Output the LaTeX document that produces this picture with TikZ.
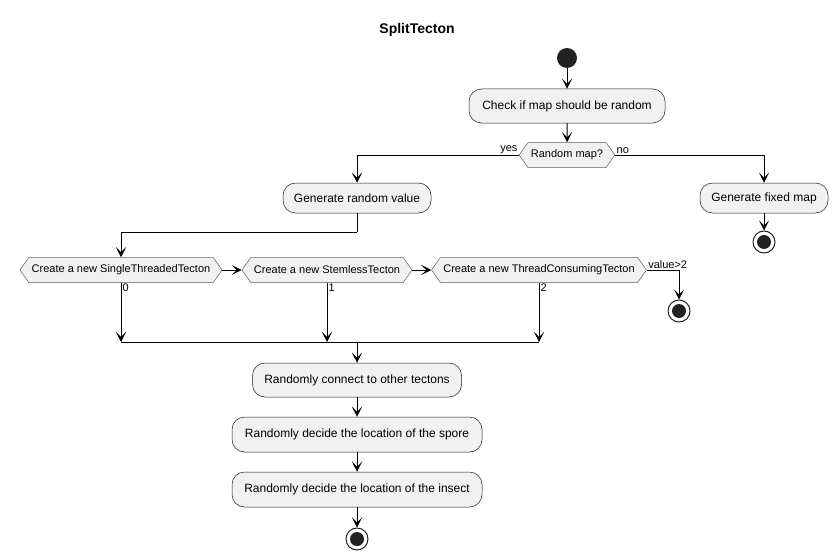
\documentclass[tikz,border=0pt]{standalone}
\usepackage{fontspec}
\setmainfont{Liberation Sans}
\usetikzlibrary{arrows.meta,shapes.symbols,calc}
\definecolor{boxfill}{HTML}{F1F1F1}
\definecolor{boxline}{HTML}{181818}
\definecolor{dot}{HTML}{222222}
\begin{document}
\begin{tikzpicture}[x=1pt,y=-1pt,
  act/.style={draw=boxline,line width=0.5pt,fill=boxfill,rounded corners=12.5pt,minimum height=34pt,inner xsep=10pt,font=\fontsize{12}{14}\selectfont},
  dec/.style={draw=boxline!70,line width=0.5pt,fill=boxfill,signal,signal to=west and east,signal pointer angle=110,minimum height=25pt,inner xsep=3pt,inner ysep=0pt,font=\fontsize{11}{13}\selectfont},
  startdot/.style={circle,fill=dot,minimum size=20pt,inner sep=0pt},
  enddot/.style={circle,draw=dot,line width=1pt,fill=white,minimum size=22pt,inner sep=0pt,path picture={\fill[dot] (path picture bounding box.center) circle (7pt);}},
  flow/.style={line width=1pt,-{Stealth[length=10pt,width=10pt,inset=5pt]}},
  plain/.style={line width=1pt},
  lbl/.style={font=\fontsize{11}{13}\selectfont,inner sep=1pt}
]
\useasboundingbox (0,0) rectangle (837,559);
\node[font=\bfseries\fontsize{14}{16}\selectfont] (title) at (417,30) {SplitTecton};
\node[startdot] (start) at (567,58) {};
\node[act,minimum width=196pt] (check) at (567,106) {Check if map should be random};
\node[dec,minimum width=92pt] (rm) at (567,155) {Random map?};
\node[act,minimum width=148pt,minimum height=30pt] (grv) at (357,198) {Generate random value};
\node[act,minimum width=128pt,minimum height=30pt] (gfm) at (764,198) {Generate fixed map};
\node[enddot] (end1) at (764,242) {};
\node[dec,minimum width=202pt] (d1) at (121,270) {Create a new SingleThreadedTecton};
\node[dec,minimum width=170pt] (d2) at (327,270) {Create a new StemlessTecton};
\node[dec,minimum width=212pt] (d3) at (539,270) {Create a new ThreadConsumingTecton};
\node[enddot] (end2) at (679,311) {};
\coordinate (m) at (357,342);
\coordinate (bend) at (357,232);
\node[act,minimum width=209pt] (rc) at (357,380) {Randomly connect to other tectons};
\node[act,minimum width=250pt,minimum height=35pt] (sp) at (357,434.5) {Randomly decide the location of the spore};
\node[act,minimum width=250pt,minimum height=35pt] (ins) at (357,489.5) {Randomly decide the location of the insect};
\node[enddot] (end3) at (357,539) {};

\draw[flow] (start) -- (check);
\draw[flow] (check) -- (rm);
\draw[flow] (rm.west) -| node[pos=0,lbl,anchor=south east] (yes) {yes} (grv.north);
\draw[flow] (rm.east) -| node[pos=0,lbl,anchor=south west] (no) {no} (gfm.north);
\draw[flow] (gfm) -- (end1);
\draw[plain] (grv.south) -- (bend);
\draw[flow] (bend) -| (d1.north);
\draw[flow] (d1.east) -- (d2.west);
\draw[flow] (d2.east) -- (d3.west);
\draw[flow] (d3.east) -| node[pos=0,lbl,anchor=south west] (vg) {value>2} (end2.north);
\draw[flow] (d1.south) -- node[pos=0,lbl,anchor=north west] (l0) {0} (d1.south |- m);
\draw[flow] (d2.south) -- node[pos=0,lbl,anchor=north west] (l1) {1} (d2.south |- m);
\draw[flow] (d3.south) -- node[pos=0,lbl,anchor=north west] (l2) {2} (d3.south |- m);
\draw[plain] (d1.south |- m) -- (d3.south |- m);
\draw[flow] (m) -- (rc);
\draw[flow] (rc) -- (sp);
\draw[flow] (sp) -- (ins);
\draw[flow] (ins) -- (end3);
\end{tikzpicture}
\end{document}
